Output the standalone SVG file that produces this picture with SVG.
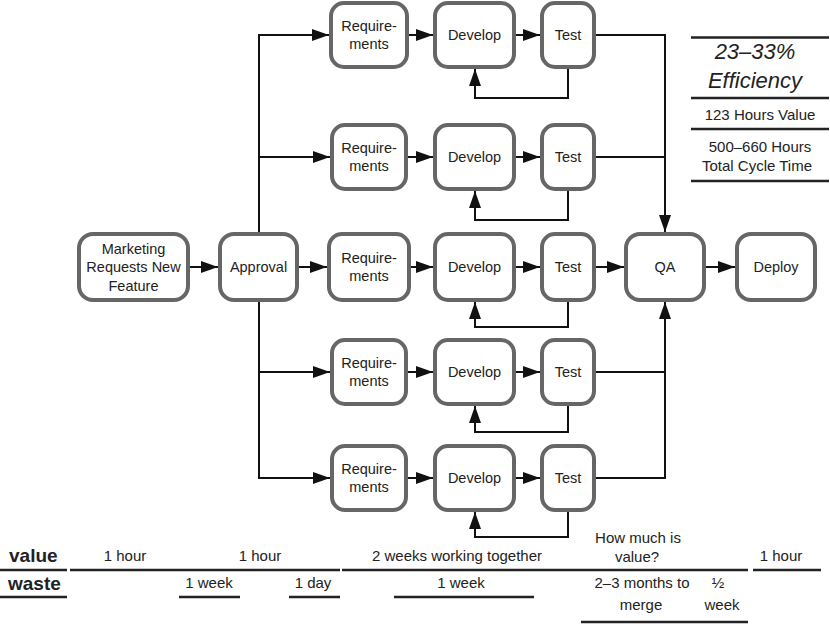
<svg xmlns="http://www.w3.org/2000/svg" width="830" height="624" viewBox="0 0 830 624">
<defs>
<style>
.box{fill:#fff;stroke:#666;stroke-width:4}
.t{font-family:"Liberation Sans",Arial,sans-serif;font-size:14.5px;fill:#222;text-anchor:middle}
.b{font-family:"Liberation Sans",Arial,sans-serif;font-size:15px;fill:#222;text-anchor:middle}
.lb{font-family:"Liberation Sans",Arial,sans-serif;font-size:19px;font-weight:bold;fill:#222}
.it{font-family:"Liberation Sans",Arial,sans-serif;font-size:22px;font-style:italic;fill:#222;text-anchor:middle}
.c{fill:none;stroke:#111;stroke-width:2}
.a{marker-end:url(#arr)}
.rule{stroke:#222;stroke-width:2.5}
</style>
<marker id="arr" markerUnits="userSpaceOnUse" markerWidth="17" markerHeight="12" refX="17" refY="6" orient="auto">
<path d="M0,0 L17,6 L0,12 Z" fill="#111"/>
</marker>
</defs>
<rect width="830" height="624" fill="#fff"/>

<g id="connectors">
<path class="c a" d="M190,267 H218"/>
<path class="c a" d="M299,267 H327"/>
<path class="c a" d="M259,232 V35 H329"/>
<path class="c a" d="M259,157 H330"/>
<path class="c a" d="M259,302 V478 H330"/>
<path class="c a" d="M259,372 H330"/>
<!-- row 1 -->
<path class="c a" d="M409,35 H433"/>
<path class="c a" d="M516,35 H540"/>
<path class="c a" d="M568,69 V98 H475 V69"/>
<path class="c a" d="M596,35 H665 V232"/>
<!-- row 2 -->
<path class="c a" d="M408,157 H433"/>
<path class="c a" d="M516,157 H540"/>
<path class="c a" d="M568,191 V220 H475 V191"/>
<path class="c" d="M596,157 H665"/>
<!-- row 3 -->
<path class="c a" d="M411,267 H433"/>
<path class="c a" d="M516,267 H540"/>
<path class="c a" d="M568,302 V327 H475 V302"/>
<path class="c a" d="M596,267 H624"/>
<path class="c a" d="M706,267 H735"/>
<!-- row 4 -->
<path class="c a" d="M408,372 H433"/>
<path class="c a" d="M516,372 H540"/>
<path class="c a" d="M568,406 V432 H475 V406"/>
<path class="c" d="M596,372 H665"/>
<!-- row 5 -->
<path class="c a" d="M408,478 H433"/>
<path class="c a" d="M516,478 H540"/>
<path class="c a" d="M568,512 V537 H475 V512"/>
<path class="c a" d="M596,478 H665 V302"/>
</g>

<g id="marketing">
<rect class="box" x="79" y="234" width="109" height="66" rx="14"/>
<text class="t" x="133.5" y="253.5">Marketing</text>
<text class="t" x="133.5" y="272">Requests New</text>
<text class="t" x="133.5" y="290.5">Feature</text>
</g>
<g id="approval">
<rect class="box" x="220" y="234" width="77" height="66" rx="14"/>
<text class="t" x="258.5" y="272">Approval</text>
</g>

<g id="req1"><rect class="box" x="331" y="3" width="76" height="64" rx="13"/>
<text class="t" x="369" y="30.5">Require-</text><text class="t" x="369" y="48.5">ments</text></g>
<g id="dev1"><rect class="box" x="435" y="3" width="79" height="64" rx="13"/>
<text class="t" x="474.5" y="40">Develop</text></g>
<g id="test1"><rect class="box" x="542" y="3" width="52" height="64" rx="13"/>
<text class="t" x="568" y="40">Test</text></g>

<g id="req2"><rect class="box" x="332" y="125" width="74" height="64" rx="13"/>
<text class="t" x="369" y="152.5">Require-</text><text class="t" x="369" y="170.5">ments</text></g>
<g id="dev2"><rect class="box" x="435" y="125" width="79" height="64" rx="13"/>
<text class="t" x="474.5" y="162">Develop</text></g>
<g id="test2"><rect class="box" x="542" y="125" width="52" height="64" rx="13"/>
<text class="t" x="568" y="162">Test</text></g>

<g id="req3"><rect class="box" x="329" y="234" width="80" height="66" rx="13"/>
<text class="t" x="369" y="262.5">Require-</text><text class="t" x="369" y="280.5">ments</text></g>
<g id="dev3"><rect class="box" x="435" y="234" width="79" height="66" rx="13"/>
<text class="t" x="474.5" y="272">Develop</text></g>
<g id="test3"><rect class="box" x="542" y="234" width="52" height="66" rx="13"/>
<text class="t" x="568" y="272">Test</text></g>

<g id="req4"><rect class="box" x="332" y="340" width="74" height="64" rx="13"/>
<text class="t" x="369" y="367.5">Require-</text><text class="t" x="369" y="385.5">ments</text></g>
<g id="dev4"><rect class="box" x="435" y="340" width="79" height="64" rx="13"/>
<text class="t" x="474.5" y="377">Develop</text></g>
<g id="test4"><rect class="box" x="542" y="340" width="52" height="64" rx="13"/>
<text class="t" x="568" y="377">Test</text></g>

<g id="req5"><rect class="box" x="332" y="446" width="74" height="64" rx="13"/>
<text class="t" x="369" y="473.5">Require-</text><text class="t" x="369" y="491.5">ments</text></g>
<g id="dev5"><rect class="box" x="435" y="446" width="79" height="64" rx="13"/>
<text class="t" x="474.5" y="483">Develop</text></g>
<g id="test5"><rect class="box" x="542" y="446" width="52" height="64" rx="13"/>
<text class="t" x="568" y="483">Test</text></g>

<g id="qa"><rect class="box" x="626" y="234" width="78" height="66" rx="14"/>
<text class="t" x="665" y="272">QA</text></g>
<g id="deploy"><rect class="box" x="737" y="234" width="78" height="66" rx="14"/>
<text class="t" x="776" y="272">Deploy</text></g>

<g id="efficiency">
<line class="rule" x1="691" y1="37.5" x2="829" y2="37.5" stroke-width="2"/>
<text class="it" x="755" y="59">23–33%</text>
<text class="it" x="755" y="88">Efficiency</text>
<line class="rule" x1="691" y1="98" x2="829" y2="98" stroke-width="3"/>
<text class="b" x="760" y="120">123 Hours Value</text>
<line class="rule" x1="691" y1="129" x2="829" y2="129" stroke-width="2"/>
<text class="b" x="760" y="152">500–660 Hours</text>
<text class="b" x="757" y="171">Total Cycle Time</text>
<line class="rule" x1="691" y1="181" x2="829" y2="181" stroke-width="2"/>
</g>

<g id="timeline">
<text class="lb" x="9" y="562">value</text>
<text class="lb" x="8" y="590">waste</text>
<line class="rule" x1="0" y1="570" x2="67" y2="570"/>
<line class="rule" x1="70" y1="570" x2="340" y2="570"/>
<line class="rule" x1="342" y1="570" x2="748" y2="570"/>
<line class="rule" x1="753" y1="570" x2="821" y2="570"/>
<line class="rule" x1="0" y1="597" x2="67" y2="597"/>
<line class="rule" x1="179" y1="597" x2="240" y2="597"/>
<line class="rule" x1="289" y1="597" x2="340" y2="597"/>
<line class="rule" x1="394" y1="597" x2="534" y2="597"/>
<line class="rule" x1="581" y1="622" x2="748" y2="622"/>
<text class="b" x="125" y="561">1 hour</text>
<text class="b" x="260" y="561">1 hour</text>
<text class="b" x="457" y="561">2 weeks working together</text>
<text class="b" x="638" y="543">How much is</text>
<text class="b" x="637" y="562">value?</text>
<text class="b" x="781" y="561">1 hour</text>
<text class="b" x="209" y="588">1 week</text>
<text class="b" x="313" y="588">1 day</text>
<text class="b" x="461" y="588">1 week</text>
<text class="b" x="642" y="588">2–3 months to</text>
<text class="b" x="641" y="610">merge</text>
<text class="b" x="718" y="588">½</text>
<text class="b" x="722" y="610">week</text>
</g>
</svg>
